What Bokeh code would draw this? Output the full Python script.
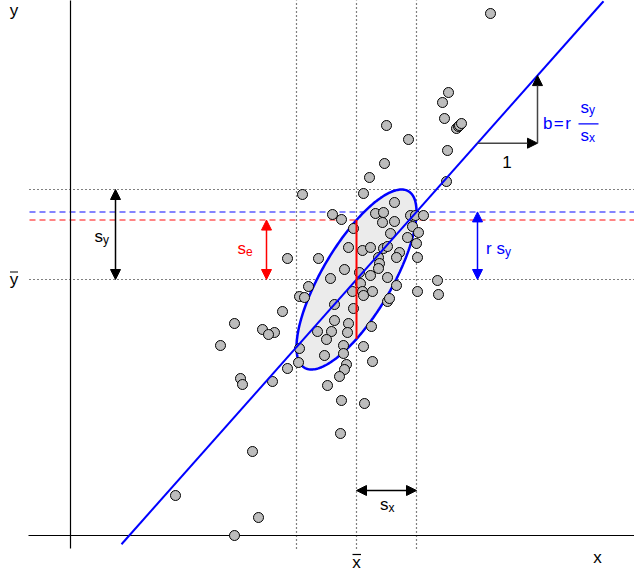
import numpy as np
from bokeh.plotting import figure
from bokeh.models import Label, Arrow, NormalHead, Range1d
from bokeh.embed import file_html
from bokeh.resources import INLINE

# ---- data ----
x_vals = [42.0, 37.8, 37.2, 37.4, 38.6, 38.8, 38.9, 39.1, 31.6, 33.8,
          37.7, 31.4, 29.9, 37.6, 23.2, 29.3, 32.4, 26.2, 27.1, 30.5,
          31.3, 31.2, 32.4, 34.0, 34.5, 35.3, 34.2, 34.8, 28.3, 32.0,
          33.7, 34.6, 27.8, 29.2, 30.0, 31.3, 31.7, 32.9, 32.6, 21.7,
          24.8, 30.8, 30.9, 30.8, 34.7, 27.4, 28.9, 30.0, 31.7, 26.0,
          36.7, 29.0, 32.6, 23.8, 28.2, 29.2, 30.2, 34.7, 22.9, 23.4,
          29.3, 36.8, 26.4, 28.3, 31.7, 31.9, 21.2, 16.4, 26.4, 27.8,
          27.7, 26.1, 24.7, 30.1, 19.2, 20.4, 19.8, 25.6, 27.3, 15.0,
          22.9, 29.3, 25.4, 27.3, 22.8, 30.2, 21.7, 27.6, 27.4, 26.9,
          17.0, 17.2, 20.2, 25.7, 27.1, 29.4, 27.0, 18.2, 10.5, 18.8,
          16.4]
y_vals = [52.2, 44.3, 43.3, 41.7, 40.7, 40.9, 41.0, 41.2, 41.0, 39.6,
          38.5, 37.2, 35.8, 35.4, 34.1, 34.2, 33.3, 32.1, 31.6, 32.2,
          32.3, 31.3, 31.4, 32.0, 32.0, 32.0, 30.9, 30.3, 30.7, 30.2,
          29.8, 29.2, 28.8, 28.5, 28.8, 28.7, 28.9, 28.3, 27.8, 27.7,
          27.7, 27.8, 27.2, 26.7, 27.8, 26.6, 26.3, 26.0, 25.8, 25.7,
          25.5, 25.2, 25.0, 24.9, 24.4, 24.4, 24.4, 24.4, 23.9, 23.8,
          24.0, 24.1, 23.1, 22.7, 23.4, 23.7, 22.4, 21.2, 21.5, 21.2,
          20.3, 20.4, 20.4, 20.9, 20.6, 20.3, 20.1, 19.6, 19.0, 19.0,
          18.7, 18.9, 18.0, 18.2, 17.3, 17.4, 16.7, 17.1, 16.6, 15.9,
          15.7, 15.1, 15.4, 15.0, 13.5, 13.2, 10.2, 8.4, 4.0, 1.8,
          0.0]

# summary statistics
x_mean = 28.6
x_sd = 6.0
y_mean = 25.6
y_sd = 9.0
r = 0.751
line_x_span = [5.1, 53.3]

b = r * y_sd / x_sd
s_e = y_sd * np.sqrt(1 - r ** 2)

BLUE = "#0000ff"
RED = "#ff0000"
FONT = "Liberation Sans"

# page-pixel -> data helpers (for annotation placement only)
def X(px):
    return (px - 70) / 10.0

def Y(py):
    return (535 - py) / 10.0

p = figure(width=634, height=571, x_range=Range1d(X(0), X(634)),
           y_range=Range1d(Y(571), Y(0)), output_backend="svg",
           toolbar_location=None, min_border=0,
           x_axis_location=None, y_axis_location=None)
p.grid.visible = False
p.outline_line_color = None

left_end = X(29)
right_end = X(700)
top_end = Y(-20)
bot_end = Y(548)

# dotted reference lines
for yy in [y_mean, y_mean + y_sd]:
    p.line([left_end, right_end], [yy, yy], line_color="black",
           line_dash="1 3", line_width=1.2)
for xx in [x_mean - x_sd, x_mean, x_mean + x_sd]:
    p.line([xx, xx], [bot_end, top_end], line_color="black",
           line_dash="1 3", line_width=1.2)

# dashed lines
p.line([left_end, right_end], [y_mean + r * y_sd] * 2, line_color="#5c5cff",
       line_dash="6 4", line_width=1.5)
p.line([left_end, right_end], [y_mean + s_e] * 2, line_color="#ff5c5c",
       line_dash="6 4", line_width=1.5)

# axes lines
p.line([X(28), right_end], [0, 0], line_color="black", line_width=1.2)
p.line([0, 0], [bot_end, top_end], line_color="black", line_width=1.2)

# concentration ellipse
t = np.linspace(0, 2 * np.pi, 240)
ex = x_mean + x_sd * np.cos(t)
ey = y_mean + y_sd * (r * np.cos(t) + np.sqrt(1 - r ** 2) * np.sin(t))
p.patch(ex, ey, fill_color="#ebebeb", line_color=BLUE, line_width=2.5)

# points
p.scatter(x_vals, y_vals, size=10, fill_color="#bdbdbd", line_color="black",
          line_width=1)

# regression line
lx = np.array(line_x_span)
p.line(lx, y_mean + b * (lx - x_mean), line_color=BLUE, line_width=2)

# red residual sd segment at x mean
p.line([x_mean, x_mean], [y_mean - s_e, y_mean + s_e], line_color=RED,
       line_width=2)


def arrow(x0, y0, x1, y1, color, both=True, line_color=None, size=10):
    lc = line_color or color
    a = Arrow(end=NormalHead(size=size, fill_color=color, line_color=color),
              start=NormalHead(size=size, fill_color=color, line_color=color) if both else None,
              x_start=x0, y_start=y0, x_end=x1, y_end=y1,
              line_color=lc, line_width=1.5)
    p.add_layout(a)


arrow(X(115), y_mean, X(115), y_mean + y_sd, "black")
arrow(X(266), y_mean, X(266), y_mean + s_e, RED)
arrow(X(477), y_mean, X(477), y_mean + r * y_sd, BLUE)
arrow(x_mean, Y(490), x_mean + x_sd, Y(490), "black")

# slope triangle
xs0 = X(477)
ys0 = y_mean + b * (xs0 - x_mean)
arrow(xs0, ys0, xs0 + x_sd, ys0, "black", both=False, line_color="#444444")
arrow(xs0 + x_sd, ys0, xs0 + x_sd, ys0 + b * x_sd, "black", both=False,
      line_color="#444444")

SHIFT = 4  # rendered baseline sits lower than requested


def lab(px, py, text, size=17, color="black", align="left"):
    p.add_layout(Label(x=X(px), y=Y(py - SHIFT), text=text, text_font=FONT,
                       text_font_size=f"{size}px", text_color=color,
                       text_align=align, text_baseline="alphabetic"))


def sub(px, py, main, s, color="black"):
    lab(px, py, main, 17, color)
    lab(px + 8.5, py + 3, s, 12, color)


lab(13.5, 13.5, "y", align="center")
lab(13.5, 282.5, "y", align="center")
lab(597, 561, "x", align="center")
lab(356, 566, "x", align="center")
# overline bars
p.line([X(9.5), X(17.5)], [Y(271.5)] * 2, line_color="black", line_width=1.2)
p.line([X(352), X(360.5)], [Y(554)] * 2, line_color="black", line_width=1.2)

sub(94, 240, "s", "y")
sub(237, 252, "s", "e", RED)
lab(485.5, 252, "r", 17, BLUE)
sub(496, 252, "s", "y", BLUE)
sub(379.5, 508, "s", "x")
lab(506.5, 165, "1", align="center")

lab(542.5, 127, "b\u200a=\u200ar", 17, BLUE)
sub(580, 110.5, "s", "y", BLUE)
sub(580, 138.5, "s", "x", BLUE)
p.line([X(578), X(598)], [Y(123.3)] * 2, line_color=BLUE, line_width=1.2)

open("out.html", "w").write(file_html(p, INLINE))
